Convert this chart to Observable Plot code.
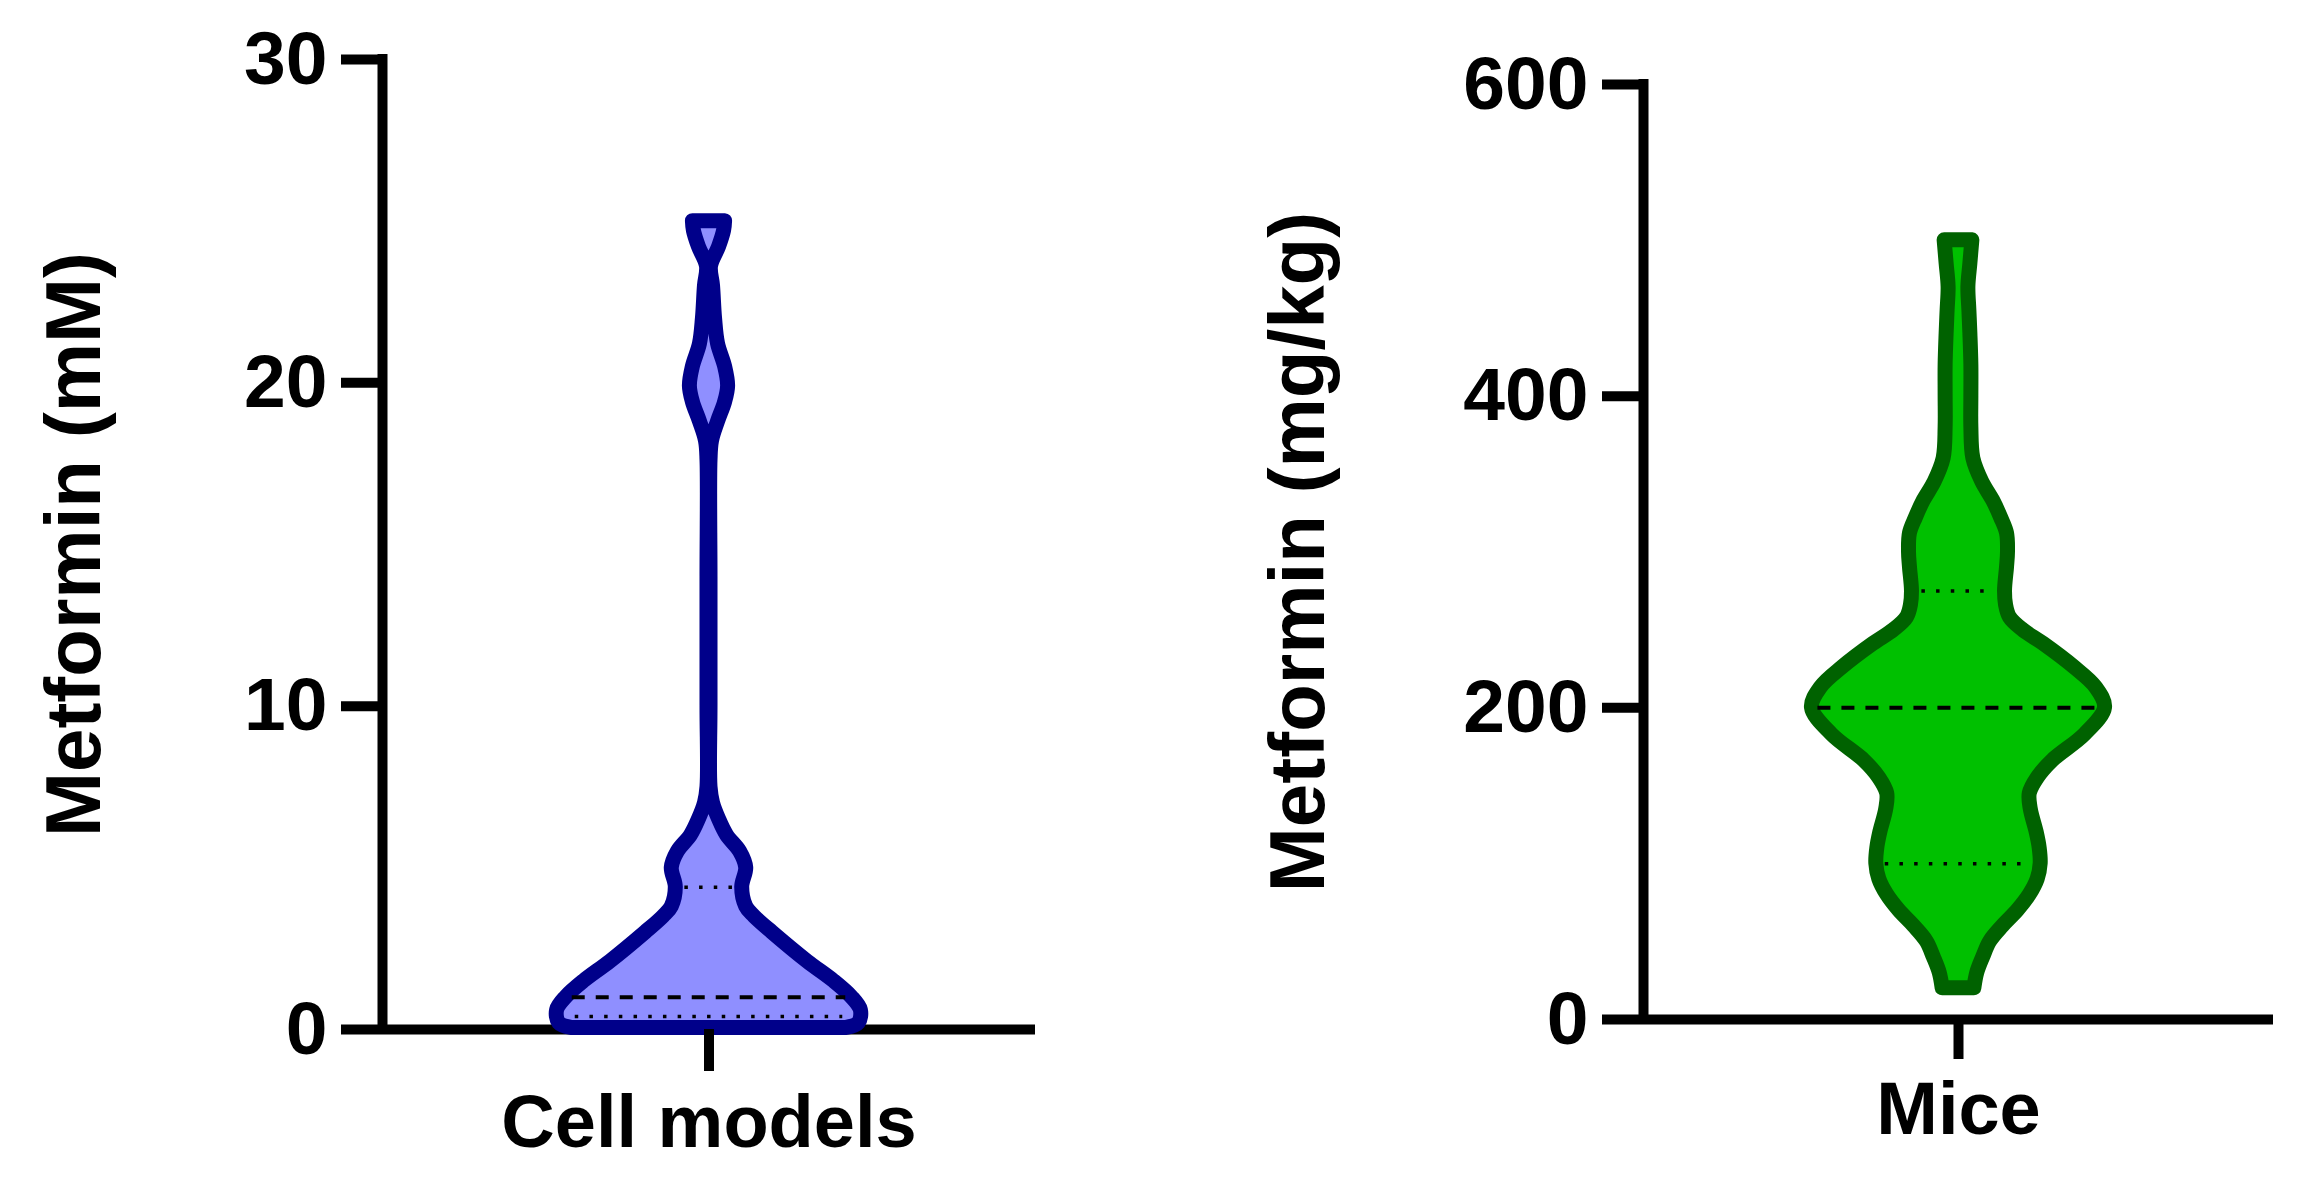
<!DOCTYPE html>
<html>
<head>
<meta charset="utf-8">
<script src="https://cdn.jsdelivr.net/npm/d3@7"></script>
<script src="https://cdn.jsdelivr.net/npm/@observablehq/plot@0.6"></script>
<style>
  html, body { margin: 0; padding: 0; background: #fff; }
  #chart { position: relative; width: 2302px; height: 1197px; overflow: hidden; background: #fff; }
  #left, #right { position: absolute; top: 0; }
  #left { left: 0; }
  #right { left: 1150px; }
  #chart svg { max-width: none !important; }
</style>
</head>
<body>
<div id="chart"><div id="left"></div><div id="right"></div></div>
<script>
// ---------- Data ----------
// Panel 1: cell models (mM)
const cellCategory = "Cell models";
const cellAxisLabel = "Metformin (mM)";
const cellTicks = [0, 10, 20, 30];
const cellLevels  = [0.05, 0.2, 0.6, 1.0, 1.5, 2.1, 3.0, 3.5, 3.8, 4.4, 5.0, 5.5, 6.0, 6.5, 7.0, 7.5, 10, 14, 17.6, 18.2, 18.8, 19.4, 19.9, 20.5, 21.2, 22.0, 23.0, 23.6, 24.2, 24.7, 25.0];
const cellDensity = [137, 149, 151, 142, 124, 98, 63, 45, 37, 33, 37, 31, 18, 10, 4, 1.5, 1.5, 1.5, 1.5, 3, 9, 16, 19, 16, 9, 6, 4, 2, 10, 15, 16];
const cellMedian = 1.0;
const cellMedianWidth = 136;
const cellQuartiles = [0.4, 4.4];
const cellQuartileWidths = [133, 24];

// Panel 2: mice (mg/kg)
const miceCategory = "Mice";
const miceAxisLabel = "Metformin (mg/kg)";
const miceTicks = [0, 200, 400, 600];
const miceLevels  = [20, 30, 40, 50, 60, 70, 80, 90, 100, 110, 120, 135, 145, 155, 166, 183, 200, 213, 226, 241, 250, 258, 266, 275, 290, 300, 312, 322, 333, 345, 360, 380, 400, 420, 440, 455, 470, 485, 500];
const miceDensity = [16, 19, 25, 32, 45, 60, 72, 80, 83, 82, 79, 73, 72, 80, 95, 128, 148, 139, 117, 86, 65, 52, 48, 47, 49, 50, 49, 43, 35, 24, 15, 13, 13, 13, 12, 11, 10, 12, 14];
const miceMedian = 200;
const miceMedianWidth = 142;
const miceQuartiles = [100, 275];
const miceQuartileWidths = [74, 37];

// ---------- Drawing ----------
const font = "'Liberation Sans', Arial, Helvetica, sans-serif";

function violinPanel(el, cfg) {
  const rows = cfg.levels.map((v, i) => ({value: v, density: cfg.density[i]}));
  const quart = cfg.quartiles.map((v, i) => ({value: v, w: cfg.quartileWidths[i]}));
  const med = [{value: cfg.median, w: cfg.medianWidth}];
  const L = 2.15 * d3.max(cfg.density);
  const yMax = d3.max(cfg.ticks);
  const chart = Plot.plot({
    width: cfg.width,
    height: 1197,
    marginLeft: cfg.marginLeft,
    marginRight: cfg.marginRight,
    marginTop: cfg.marginTop,
    marginBottom: cfg.marginBottom,
    style: {fontFamily: font, fontWeight: "bold", color: "black", background: "transparent", overflow: "visible"},
    x: {domain: [-L, L]},
    y: {domain: [0, yMax]},
    marks: [
      Plot.ruleY([0], {stroke: "black", strokeWidth: 10}),
      Plot.ruleX([-L], {y1: 0, y2: yMax, stroke: "black", strokeWidth: 10, strokeLinecap: "square"}),
      Plot.areaX(rows, {
        y: "value", x1: d => -d.density, x2: d => d.density,
        fill: cfg.fill, stroke: cfg.stroke, strokeWidth: 15, strokeLinejoin: "round",
        curve: "catmull-rom"
      }),
      Plot.ruleY(med, {y: "value", x1: d => -d.w, x2: d => d.w, stroke: "black", strokeWidth: 4, strokeDasharray: "13,11"}),
      Plot.ruleY(quart, {y: "value", x1: d => -d.w, x2: d => d.w, stroke: "black", strokeWidth: 3.5, strokeDasharray: "3.5,11.2"}),
      Plot.axisY({
        ticks: cfg.ticks, tickFormat: d3.format("d"), tickSize: 41, tickPadding: 14,
        fontSize: 75, fontWeight: "bold", strokeWidth: 10, label: null
      }),
      Plot.axisX({
        ticks: [0], tickFormat: () => cfg.category, tickSize: cfg.xTickSize, tickPadding: cfg.xTickPadding,
        fontSize: 74, fontWeight: "bold", strokeWidth: 10, label: null
      }),
      Plot.text([cfg.axisLabel], {
        text: d => d, frameAnchor: "left", textAnchor: "middle", rotate: -90, dx: cfg.labelDx,
        fontSize: 78, fontWeight: "bold", fill: "black"
      })
    ]
  });
  el.appendChild(chart);
}

violinPanel(document.getElementById("left"), {
  width: 1150, marginLeft: 382, marginRight: 115, marginTop: 59, marginBottom: 168,
  ticks: cellTicks, category: cellCategory, axisLabel: cellAxisLabel,
  levels: cellLevels, density: cellDensity,
  median: cellMedian, medianWidth: cellMedianWidth,
  quartiles: cellQuartiles, quartileWidths: cellQuartileWidths,
  fill: "#8f8fff", stroke: "#00008a", labelDx: -307, xTickSize: 42, xTickPadding: 23
});

violinPanel(document.getElementById("right"), {
  width: 1152, marginLeft: 493, marginRight: 29, marginTop: 84, marginBottom: 178,
  ticks: miceTicks, category: miceCategory, axisLabel: miceAxisLabel,
  levels: miceLevels, density: miceDensity,
  median: miceMedian, medianWidth: miceMedianWidth,
  quartiles: miceQuartiles, quartileWidths: miceQuartileWidths,
  fill: "#00c000", stroke: "#006200", labelDx: -344, xTickSize: 40, xTickPadding: 22
});
</script>
</body>
</html>
